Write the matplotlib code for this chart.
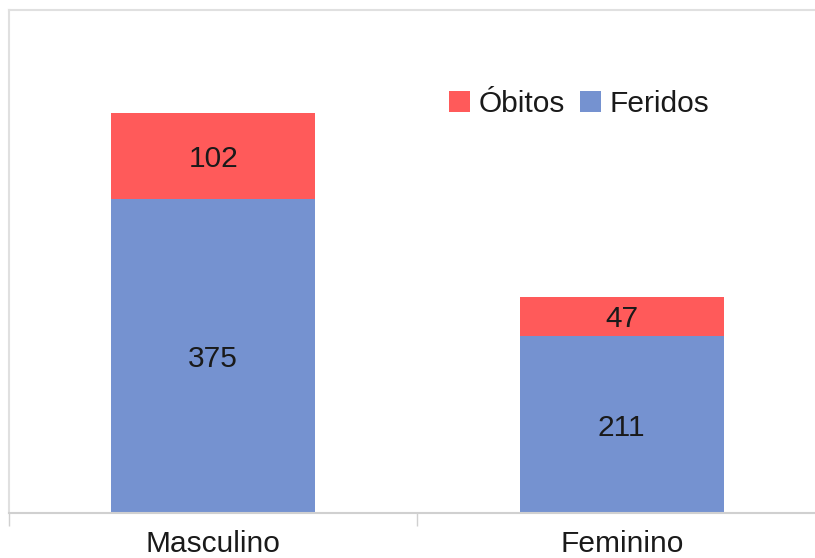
import matplotlib
matplotlib.use("Agg")
import matplotlib.pyplot as plt
import numpy as np

categories = ["Masculino", "Feminino"]
feridos = [375, 211]
obitos = [102, 47]
series_names = ["Óbitos", "Feridos"]

plt.rcParams['font.family'] = ['Liberation Sans', 'DejaVu Sans']

W, H = 815, 558
fig = plt.figure(figsize=(W / 100, H / 100), dpi=100)
ax = fig.add_axes([9 / W, (H - 513) / H, (826 - 9) / W, (513 - 10) / H])

x = np.arange(len(categories))
red = "#FF5A5A"
blue = "#7592D0"
b1 = ax.bar(x, feridos, width=0.5, color=blue, label=series_names[1])
b2 = ax.bar(x, obitos, width=0.5, bottom=feridos, color=red, label=series_names[0])

fs = 21.5
for i in range(len(categories)):
    ax.text(x[i], feridos[i] / 2, str(feridos[i]), ha="center", va="center_baseline", fontsize=fs, color="#1a1a1a")
    ax.text(x[i], feridos[i] + obitos[i] / 2, str(obitos[i]), ha="center", va="center_baseline", fontsize=fs, color="#1a1a1a")

ax.set_xlim(-0.5, 1.5)
ax.set_ylim(0, 600)
ax.set_yticks([])
ax.set_xticks([-0.5, 0.5, 1.5])
ax.set_xticklabels([])
ax.set_xticks(x, minor=True)
ax.set_xticklabels(categories, minor=True, fontsize=fs, color="#1a1a1a")
ax.tick_params(axis="x", which="major", length=9, width=1, color="#d0d0d0", direction="out")
ax.tick_params(axis="x", which="minor", length=0, pad=12)

for s in ["left", "top"]:
    ax.spines[s].set_color("#e0e0e0")
    ax.spines[s].set_linewidth(1.5)
ax.spines["bottom"].set_color("#d0d0d0")
ax.spines["bottom"].set_linewidth(1.5)
ax.spines["right"].set_visible(False)

leg = ax.legend(handles=[b2, b1], loc="center", bbox_to_anchor=((579 - 9) / (826 - 9), (513 - 104) / 503),
                ncol=2, frameon=False, fontsize=fs, handlelength=0.7, handleheight=0.7,
                handletextpad=0.3, columnspacing=0.5, borderpad=0)
for t in leg.get_texts():
    t.set_color("#1a1a1a")

fig.savefig("out.png", dpi=100)
